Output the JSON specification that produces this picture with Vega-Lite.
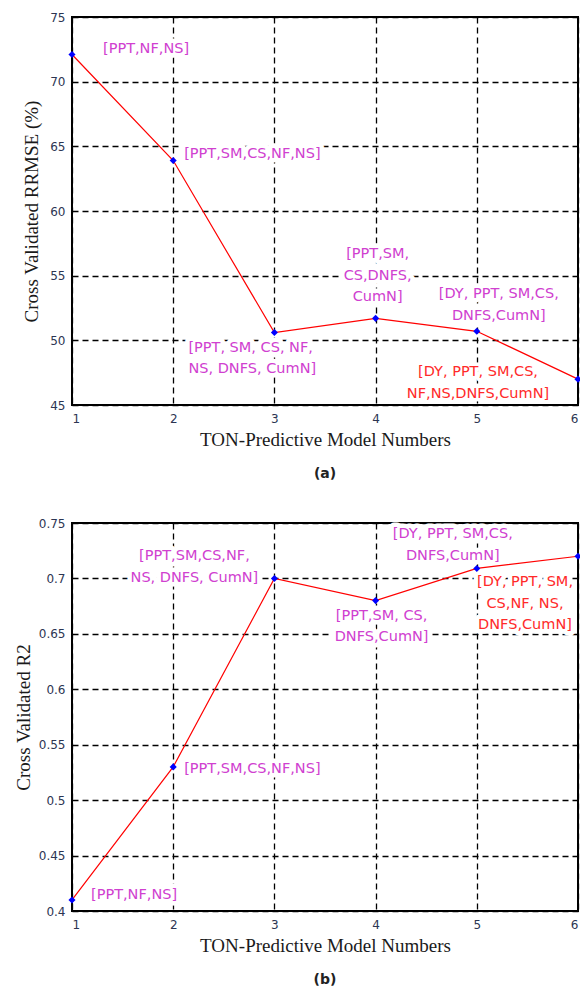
{
  "$schema": "https://vega.github.io/schema/vega-lite/v6.json",
  "padding": {"left": 13, "top": 10, "right": 0, "bottom": 0},
  "background": "white",
  "bounds": "flush",
  "spacing": 118,
  "datasets": {
    "rrmse": [
      {"model": 1, "value": 72.1, "label": "[PPT,NF,NS]"},
      {"model": 2, "value": 63.9, "label": "[PPT,SM,CS,NF,NS]"},
      {"model": 3, "value": 50.6, "label": "[PPT, SM, CS, NF,\nNS, DNFS, CumN]"},
      {"model": 4, "value": 51.7, "label": "[PPT,SM,\nCS,DNFS,\nCumN]"},
      {"model": 5, "value": 50.7, "label": "[DY, PPT, SM,CS,\nDNFS,CumN]"},
      {"model": 6, "value": 47.0, "label": "[DY, PPT, SM,CS,\nNF,NS,DNFS,CumN]"}
    ],
    "r2": [
      {"model": 1, "value": 0.41, "label": "[PPT,NF,NS]"},
      {"model": 2, "value": 0.53, "label": "[PPT,SM,CS,NF,NS]"},
      {"model": 3, "value": 0.70, "label": "[PPT,SM,CS,NF,\nNS, DNFS, CumN]"},
      {"model": 4, "value": 0.68, "label": "[PPT,SM, CS,\nDNFS,CumN]"},
      {"model": 5, "value": 0.709, "label": "[DY, PPT, SM,CS,\nDNFS,CumN]"},
      {"model": 6, "value": 0.72, "label": "[DY, PPT, SM,\nCS,NF, NS,\nDNFS,CumN]"}
    ]
  },
  "config": {
    "view": {"stroke": "black", "strokeWidth": 2},
    "axis": {
      "grid": true, "gridColor": "black", "gridDash": [6, 4], "gridWidth": 1.3, "gridOpacity": 1,
      "domain": false, "ticks": false, "tickSize": 0,
      "labelFont": "DejaVu Sans", "labelFontSize": 12, "labelColor": "#2c3552",
      "titleFont": "Liberation Serif", "titleFontSize": 19, "titleFontWeight": "normal", "titleColor": "#1a1a1a"
    },
    "axisX": {"labelPadding": 8, "titlePadding": 6},
    "axisY": {"labelPadding": 7},
    "text": {"font": "DejaVu Sans", "fontSize": 14.5, "lineHeight": 21.5, "lineBreak": "\n"}
  },
  "vconcat": [
    {
      "width": 506,
      "height": 388,
      "data": {"name": "rrmse"},
      "title": {"text": "(a)", "orient": "bottom", "frame": "group", "offset": 18, "font": "DejaVu Sans", "fontSize": 14, "fontWeight": "bold", "color": "#222222"},
      "encoding": {
        "x": {"field": "model", "type": "quantitative", "scale": {"domain": [1, 6], "nice": false, "zero": false},
              "axis": {"values": [1, 2, 3, 4, 5, 6], "format": "d", "title": "TON-Predictive Model Numbers"}},
        "y": {"field": "value", "type": "quantitative", "scale": {"domain": [45, 75], "nice": false, "zero": false},
              "axis": {"values": [45, 50, 55, 60, 65, 70, 75], "format": "d", "title": "Cross Validated RRMSE (%)", "titlePadding": 8}}
      },
      "layer": [
        {"transform": [{"filter": "datum.model == 1"}], "encoding": {"text": {"field": "label"}}, "layer": [
          {"mark": {"type": "text", "align": "left", "baseline": "middle", "dx": 31, "dy": -6, "color": "white", "stroke": "white", "strokeWidth": 9, "strokeJoin": "round"}},
          {"mark": {"type": "text", "align": "left", "baseline": "middle", "dx": 31, "dy": -6, "color": "#d040d0"}}]},
        {"transform": [{"filter": "datum.model == 2"}], "encoding": {"text": {"field": "label"}}, "layer": [
          {"mark": {"type": "text", "align": "left", "baseline": "middle", "dx": 11, "dy": -7, "color": "white", "stroke": "white", "strokeWidth": 9, "strokeJoin": "round"}},
          {"mark": {"type": "text", "align": "left", "baseline": "middle", "dx": 11, "dy": -7, "color": "#d040d0"}}]},
        {"transform": [{"filter": "datum.model == 3"}], "encoding": {"text": {"field": "label"}}, "layer": [
          {"mark": {"type": "text", "align": "left", "baseline": "top", "dx": -86, "dy": 8, "color": "white", "stroke": "white", "strokeWidth": 9, "strokeJoin": "round"}},
          {"mark": {"type": "text", "align": "left", "baseline": "top", "dx": -86, "dy": 8, "color": "#d040d0"}}]},
        {"transform": [{"filter": "datum.model == 4"}], "encoding": {"text": {"field": "label"}}, "layer": [
          {"mark": {"type": "text", "align": "center", "baseline": "top", "dx": 2, "dy": -71, "color": "white", "stroke": "white", "strokeWidth": 9, "strokeJoin": "round"}},
          {"mark": {"type": "text", "align": "center", "baseline": "top", "dx": 2, "dy": -71, "color": "#d040d0"}}]},
        {"transform": [{"filter": "datum.model == 5"}], "encoding": {"text": {"field": "label"}}, "layer": [
          {"mark": {"type": "text", "align": "center", "baseline": "top", "dx": 22, "dy": -44, "color": "white", "stroke": "white", "strokeWidth": 9, "strokeJoin": "round"}},
          {"mark": {"type": "text", "align": "center", "baseline": "top", "dx": 22, "dy": -44, "color": "#d040d0"}}]},
        {"transform": [{"filter": "datum.model == 6"}], "encoding": {"text": {"field": "label"}}, "layer": [
          {"mark": {"type": "text", "align": "center", "baseline": "top", "dx": -100, "dy": -14, "color": "white", "stroke": "white", "strokeWidth": 7, "strokeJoin": "round"}},
          {"mark": {"type": "text", "align": "center", "baseline": "top", "dx": -100, "dy": -14, "color": "#ff2a2a"}}]},
        {"mark": {"type": "line", "color": "#ff0000", "strokeWidth": 1.2}},
        {"mark": {"type": "point", "shape": "diamond", "filled": true, "color": "#0000ff", "size": 50, "opacity": 1}}
      ]
    },
    {
      "width": 506,
      "height": 388,
      "data": {"name": "r2"},
      "title": {"text": "(b)", "orient": "bottom", "frame": "group", "offset": 18, "font": "DejaVu Sans", "fontSize": 14, "fontWeight": "bold", "color": "#222222"},
      "encoding": {
        "x": {"field": "model", "type": "quantitative", "scale": {"domain": [1, 6], "nice": false, "zero": false},
              "axis": {"values": [1, 2, 3, 4, 5, 6], "format": "d", "title": "TON-Predictive Model Numbers"}},
        "y": {"field": "value", "type": "quantitative", "scale": {"domain": [0.4, 0.75], "nice": false, "zero": false},
              "axis": {"values": [0.4, 0.45, 0.5, 0.55, 0.6, 0.65, 0.7, 0.75], "format": ".2~f", "title": "Cross Validated R2", "titlePadding": 5}}
      },
      "layer": [
        {"transform": [{"filter": "datum.model == 1"}], "encoding": {"text": {"field": "label"}}, "layer": [
          {"mark": {"type": "text", "align": "left", "baseline": "middle", "dx": 19, "dy": -5, "color": "white", "stroke": "white", "strokeWidth": 9, "strokeJoin": "round"}},
          {"mark": {"type": "text", "align": "left", "baseline": "middle", "dx": 19, "dy": -5, "color": "#d040d0"}}]},
        {"transform": [{"filter": "datum.model == 2"}], "encoding": {"text": {"field": "label"}}, "layer": [
          {"mark": {"type": "text", "align": "left", "baseline": "middle", "dx": 11, "dy": 2, "color": "white", "stroke": "white", "strokeWidth": 9, "strokeJoin": "round"}},
          {"mark": {"type": "text", "align": "left", "baseline": "middle", "dx": 11, "dy": 2, "color": "#d040d0"}}]},
        {"transform": [{"filter": "datum.model == 3"}], "encoding": {"text": {"field": "label"}}, "layer": [
          {"mark": {"type": "text", "align": "center", "baseline": "top", "dx": -80, "dy": -29, "color": "white", "stroke": "white", "strokeWidth": 9, "strokeJoin": "round"}},
          {"mark": {"type": "text", "align": "center", "baseline": "top", "dx": -80, "dy": -29, "color": "#d040d0"}}]},
        {"transform": [{"filter": "datum.model == 4"}], "encoding": {"text": {"field": "label"}}, "layer": [
          {"mark": {"type": "text", "align": "center", "baseline": "top", "dx": 6, "dy": 8, "color": "white", "stroke": "white", "strokeWidth": 9, "strokeJoin": "round"}},
          {"mark": {"type": "text", "align": "center", "baseline": "top", "dx": 6, "dy": 8, "color": "#d040d0"}}]},
        {"transform": [{"filter": "datum.model == 5"}], "encoding": {"text": {"field": "label"}}, "layer": [
          {"mark": {"type": "text", "align": "center", "baseline": "top", "dx": -24, "dy": -41, "color": "white", "stroke": "white", "strokeWidth": 9, "strokeJoin": "round"}},
          {"mark": {"type": "text", "align": "center", "baseline": "top", "dx": -24, "dy": -41, "color": "#d040d0"}}]},
        {"transform": [{"filter": "datum.model == 6"}], "encoding": {"text": {"field": "label"}}, "layer": [
          {"mark": {"type": "text", "align": "center", "baseline": "top", "dx": -53, "dy": 19, "color": "white", "stroke": "white", "strokeWidth": 9, "strokeJoin": "round"}},
          {"mark": {"type": "text", "align": "center", "baseline": "top", "dx": -53, "dy": 19, "color": "#ff2a2a"}}]},
        {"mark": {"type": "line", "color": "#ff0000", "strokeWidth": 1.2}},
        {"mark": {"type": "point", "shape": "diamond", "filled": true, "color": "#0000ff", "size": 50, "opacity": 1}}
      ]
    }
  ]
}
